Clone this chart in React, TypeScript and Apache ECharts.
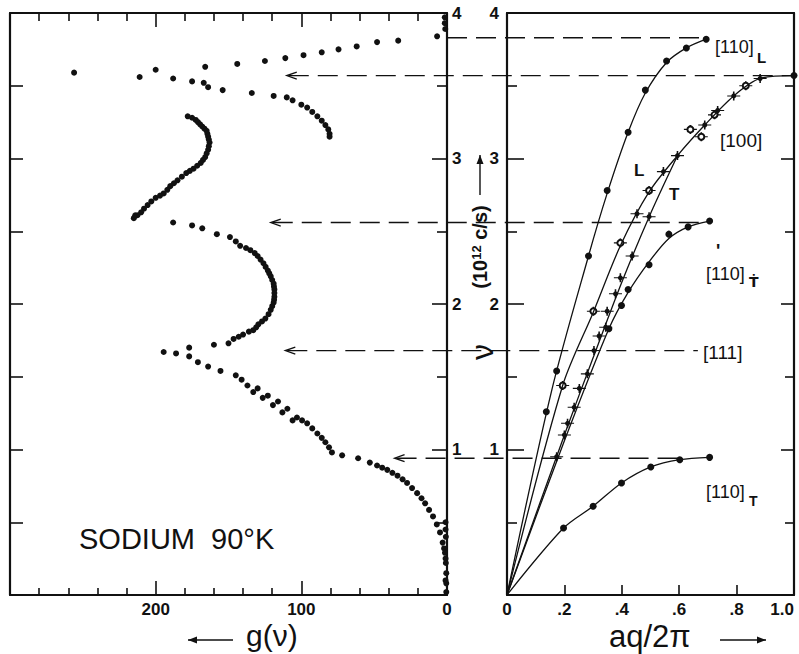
import React, { useEffect, useRef } from "react";
import * as echarts from "echarts";

// ---------- Left panel: frequency spectrum g(nu) (dots) ----------
const SPECTRUM_G = [
  1.5, 1.5, 1.2, 6.8, 33.5, 48, 62, 74.5, 86, 98.5, 111, 125, 144, 166, 200, 256,
  211, 188, 175, 167, 164, 154, 134, 119, 110, 106, 100, 96, 92.5, 89, 86, 83.5, 81.5, 80.6, 80.6,
  178, 175, 172.5, 171, 169.5, 168, 166.5, 165, 164.5, 164, 163.5, 163, 163.5, 164, 165, 166, 167.5, 169, 171.5, 174, 176.5, 179, 182, 185, 187.5, 190, 192, 194.5, 197, 200, 203, 205.5, 208, 210, 212.5, 215, 214,
  188, 175, 168, 158, 149, 145, 142, 138, 135, 132, 130, 128, 126, 124.5, 123, 122, 121, 120, 119, 118.8, 118.5, 118.5, 118.5, 118.7, 119, 120, 121, 122.5, 124.7, 127, 129.5, 131, 133, 136, 140, 143, 146.5, 150, 160, 177, 186, 194.5,
  177, 171, 164, 155.5, 145, 141, 137, 133, 130, 126.5, 123, 119.5, 116, 113, 109.6, 106, 103, 99.5, 96, 92.5, 89, 86, 83.5, 81, 79, 72, 61, 53, 48, 44.5, 41, 37.5, 34, 30.5, 27.4, 24, 20.5, 17.5, 15, 12.3, 9.6, 7, 4.8, 3, 2, 1.4, 1, 1, 0.8, 0.5, 1, 0.8, 0.5, 0.5, 1
];
const SPECTRUM_NU = [
  3.97, 3.93, 3.89, 3.84, 3.81, 3.8, 3.77, 3.75, 3.73, 3.71, 3.69, 3.67, 3.65, 3.63, 3.61, 3.59,
  3.56, 3.55, 3.53, 3.52, 3.49, 3.47, 3.45, 3.43, 3.42, 3.4, 3.37, 3.35, 3.32, 3.29, 3.26, 3.23, 3.2, 3.17, 3.15,
  3.29, 3.28, 3.265, 3.25, 3.235, 3.22, 3.205, 3.19, 3.17, 3.15, 3.13, 3.11, 3.085, 3.06, 3.035, 3.01, 2.99, 2.97, 2.95, 2.93, 2.915, 2.9, 2.875, 2.85, 2.83, 2.81, 2.785, 2.76, 2.745, 2.73, 2.705, 2.68, 2.655, 2.63, 2.61, 2.59, 2.61,
  2.56, 2.54, 2.52, 2.48, 2.46, 2.43, 2.4, 2.385, 2.37, 2.35, 2.33, 2.305, 2.28, 2.255, 2.23, 2.21, 2.19, 2.165, 2.14, 2.12, 2.1, 2.075, 2.05, 2.03, 2.01, 1.985, 1.96, 1.93, 1.9, 1.88, 1.86, 1.84, 1.82, 1.81, 1.79, 1.775, 1.76, 1.73, 1.72, 1.7, 1.66, 1.67,
  1.64, 1.6, 1.57, 1.54, 1.51, 1.48, 1.44, 1.395, 1.42, 1.355, 1.37, 1.305, 1.33, 1.255, 1.28, 1.2, 1.22, 1.2, 1.18, 1.145, 1.11, 1.08, 1.05, 1.015, 0.98, 0.96, 0.94, 0.91, 0.89, 0.875, 0.86, 0.84, 0.82, 0.795, 0.77, 0.735, 0.7, 0.665, 0.63, 0.585, 0.54, 0.485, 0.43, 0.36, 0.32, 0.29, 0.5, 0.45, 0.4, 0.15, 0.25, 0.22, 0.08, 0.02, 0.1
];

// ---------- Right panel: dispersion curves ----------
const L110_Q = [0.137, 0.173, 0.284, 0.349, 0.422, 0.482, 0.556, 0.625, 0.694];
const L110_NU = [1.26, 1.54, 2.33, 2.78, 3.18, 3.47, 3.67, 3.76, 3.82];
const L110_LINE_Q = [0, 0.155, 0.284, 0.349, 0.422, 0.482, 0.556, 0.625, 0.694];
const L110_LINE_NU = [0, 1.4, 2.33, 2.76, 3.18, 3.45, 3.66, 3.76, 3.82];

const T110_Q = [0.197, 0.3, 0.399, 0.501, 0.602, 0.706];
const T110_NU = [0.46, 0.61, 0.77, 0.88, 0.93, 0.946];

const T110B_Q = [0.355, 0.399, 0.422, 0.495, 0.564, 0.631, 0.706];
const T110B_NU = [1.83, 1.99, 2.1, 2.27, 2.48, 2.53, 2.57];
const T110B_LINE_Q = [0, 0.2, 0.355, 0.422, 0.495, 0.564, 0.631, 0.706];
const T110B_LINE_NU = [0, 1.06, 1.83, 2.08, 2.29, 2.45, 2.53, 2.57];

const L100_LINE_Q = [0, 0.194, 0.3, 0.395, 0.495, 0.594, 0.689, 0.79, 0.882, 1.0];
const L100_LINE_NU = [0, 1.44, 1.94, 2.4, 2.77, 3.02, 3.23, 3.43, 3.55, 3.57];

const T100_LINE_Q = [0, 0.2, 0.3, 0.4, 0.5, 0.594];
const T100_LINE_NU = [0, 1.1, 1.63, 2.15, 2.62, 3.02];

const OPEN_Q = [0.194, 0.301, 0.395, 0.495, 0.639, 0.677, 0.723, 0.832];
const OPEN_NU = [1.44, 1.95, 2.42, 2.78, 3.2, 3.15, 3.3, 3.5];

const CROSS_Q = [0.453, 0.545, 0.594, 0.689, 0.734, 0.79, 0.882,
  0.173, 0.2, 0.211, 0.234, 0.252, 0.28, 0.303, 0.321, 0.344, 0.349, 0.378, 0.395, 0.436, 0.495];
const CROSS_NU = [2.62, 2.91, 3.02, 3.23, 3.33, 3.43, 3.55,
  0.95, 1.1, 1.18, 1.29, 1.42, 1.52, 1.68, 1.78, 1.84, 1.95, 2.07, 2.18, 2.33, 2.6];

const END100_Q = [1.0];
const END100_NU = [3.57];

// dashed guide lines: level nu, start on left panel (g), end on right panel (q)
const GUIDE_NU = [3.83, 3.57, 2.56, 1.68, 0.94];
const GUIDE_G_START = [0, 110, 121, 111, 36];
const GUIDE_Q_END = [0.67, 1.0, 0.675, 0.665, 0.6];
const GUIDE_ARROW = [false, true, true, true, true];

// tick labels
const G_TICKS = [0, 100, 200];
const NU_TICKS = [1, 2, 3, 4];

const FONT = '"Liberation Sans", Arial, sans-serif';
const INK = "#111";

const pairs = (xs: number[], ys: number[]) => xs.map((x, i) => [x, ys[i]]);
const withOrigin = (xs: number[], ys: number[]) => [[0, 0], ...pairs(xs, ys)];

const crossSymbol = "path://M0,10L24,10M12,2L12,18";

export default function App() {
  const ref = useRef<HTMLDivElement>(null);

  useEffect(() => {
    const chart = echarts.init(ref.current!, null, { renderer: "svg" });

    const tickLabel = {
      color: INK,
      fontSize: 17,
      fontWeight: "bold" as const,
      fontFamily: FONT,
    };
    const axisLine = { show: true, onZero: false, lineStyle: { color: INK, width: 2.2 } };
    const tickStyle = { color: INK, width: 1.6 };

    const option: any = {
      animation: false,
      backgroundColor: "#fff",
      grid: [
        { left: 10, top: 13, width: 437, height: 582 },
        { left: 507, top: 13, width: 287, height: 582 },
      ],
      xAxis: [
        {
          gridIndex: 0, type: "value", position: "bottom", min: 0, max: 300, interval: 100, inverse: true,
          axisLine,
          axisTick: { show: true, inside: true, length: 14, lineStyle: tickStyle },
          minorTick: { show: true, splitNumber: 5, length: 7, lineStyle: tickStyle },
          axisLabel: { ...tickLabel, margin: 6, formatter: (v: number) => (G_TICKS.includes(v) ? String(v) : "") },
          splitLine: { show: false },
        },
        {
          gridIndex: 0, type: "value", position: "top", min: 0, max: 300, interval: 100, inverse: true,
          axisLine,
          axisTick: { show: true, inside: true, length: 14, lineStyle: tickStyle },
          minorTick: { show: true, splitNumber: 5, length: 8, lineStyle: tickStyle },
          axisLabel: { show: false },
          splitLine: { show: false },
        },
        {
          gridIndex: 1, type: "value", position: "bottom", min: 0, max: 1, interval: 0.2,
          axisLine,
          axisTick: { show: true, inside: true, length: 10, lineStyle: tickStyle },
          axisLabel: {
            ...tickLabel, margin: 6, alignMaxLabel: "right",
            formatter: (v: number) => (v === 0 ? "0" : v >= 1 ? "1.0" : "." + Math.round(v * 10)),
          },
          splitLine: { show: false },
        },
        {
          gridIndex: 1, type: "value", position: "top", min: 0, max: 1, interval: 0.2,
          axisLine, axisTick: { show: false }, axisLabel: { show: false }, splitLine: { show: false },
        },
      ],
      yAxis: [
        {
          gridIndex: 0, type: "value", position: "left", min: 0, max: 4, interval: 0.5,
          axisLine,
          axisTick: { show: true, inside: true, length: 13, lineStyle: tickStyle },
          axisLabel: { show: false }, splitLine: { show: false },
        },
        {
          gridIndex: 0, type: "value", position: "right", min: 0, max: 4, interval: 1,
          axisLine,
          axisTick: { show: true, inside: true, length: 15, lineStyle: tickStyle },
          minorTick: { show: true, splitNumber: 2, length: 10, lineStyle: tickStyle },
          axisLabel: { ...tickLabel, margin: 5, formatter: (v: number) => (NU_TICKS.includes(v) ? String(v) : "") },
          splitLine: { show: false },
        },
        {
          gridIndex: 1, type: "value", position: "left", min: 0, max: 4, interval: 1,
          axisLine,
          axisTick: { show: true, inside: true, length: 17, lineStyle: tickStyle },
          minorTick: { show: true, splitNumber: 2, length: 10, lineStyle: tickStyle },
          axisLabel: { ...tickLabel, margin: 8, formatter: (v: number) => (NU_TICKS.includes(v) ? String(v) : "") },
          splitLine: { show: false },
        },
        {
          gridIndex: 1, type: "value", position: "right", min: 0, max: 4, interval: 1,
          axisLine,
          axisTick: { show: true, inside: true, length: 13, lineStyle: tickStyle },
          minorTick: { show: true, splitNumber: 2, length: 9, lineStyle: tickStyle },
          axisLabel: { show: false }, splitLine: { show: false },
        },
      ],
      series: [
        {
          type: "scatter", xAxisIndex: 0, yAxisIndex: 0, symbolSize: 6,
          itemStyle: { color: INK, opacity: 1 }, data: pairs(SPECTRUM_G, SPECTRUM_NU),
        },
        // curves
        ...[
          pairs(L110_LINE_Q, L110_LINE_NU),
          withOrigin(T110_Q, T110_NU),
          pairs(T110B_LINE_Q, T110B_LINE_NU),
          pairs(L100_LINE_Q, L100_LINE_NU),
          pairs(T100_LINE_Q, T100_LINE_NU),
        ].map((d) => ({
          type: "line", xAxisIndex: 2, yAxisIndex: 2, data: d, smooth: 0.3,
          symbol: "none", lineStyle: { color: INK, width: 1.3 },
        })),
        // filled dots
        ...[pairs(L110_Q, L110_NU), pairs(T110_Q, T110_NU), pairs(T110B_Q, T110B_NU), pairs(END100_Q, END100_NU)].map((d) => ({
          type: "scatter", xAxisIndex: 2, yAxisIndex: 2, data: d, symbolSize: 7, itemStyle: { color: INK, opacity: 1 },
        })),
        // error-bar crosses
        {
          type: "scatter", xAxisIndex: 2, yAxisIndex: 2, symbol: crossSymbol, symbolSize: [13, 9],
          itemStyle: { color: "rgba(0,0,0,0)", borderColor: INK, borderWidth: 1.3, opacity: 1 },
          data: [...pairs(CROSS_Q, CROSS_NU), ...pairs(OPEN_Q, OPEN_NU)],
        },
        {
          type: "scatter", xAxisIndex: 2, yAxisIndex: 2, symbolSize: 5, itemStyle: { color: INK, opacity: 1 },
          data: pairs(CROSS_Q, CROSS_NU),
        },
        {
          type: "scatter", xAxisIndex: 2, yAxisIndex: 2, symbol: "emptyCircle", symbolSize: 6,
          itemStyle: { color: INK, borderColor: INK, borderWidth: 1.3, opacity: 1 },
          data: pairs(OPEN_Q, OPEN_NU),
        },
      ],
    };
    chart.setOption(option);

    const toLeft = (g: number, nu: number) => chart.convertToPixel({ xAxisIndex: 0, yAxisIndex: 0 } as any, [g, nu]) as number[];
    const toRight = (q: number, nu: number) => chart.convertToPixel({ xAxisIndex: 2, yAxisIndex: 2 } as any, [q, nu]) as number[];

    const graphics: any[] = [];
    const stroke = { stroke: INK, lineWidth: 1.3 };
    GUIDE_NU.forEach((nu, i) => {
      const a = toLeft(GUIDE_G_START[i], nu);
      const b = toRight(GUIDE_Q_END[i], nu);
      graphics.push({
        type: "line", silent: true,
        shape: { x1: a[0] + (GUIDE_ARROW[i] ? 2 : 0), y1: a[1], x2: b[0], y2: b[1] },
        style: { ...stroke, lineDash: [20, 9] },
      });
      if (GUIDE_ARROW[i]) {
        graphics.push({
          type: "polyline", silent: true,
          shape: { points: [[a[0] + 10, a[1] - 3.5], [a[0], a[1]], [a[0] + 10, a[1] + 3.5]] },
          style: { ...stroke, fill: "none" },
        });
      }
    });

    const txt = (text: string, x: number, y: number, size: number, extra: any = {}) => ({
      type: "text", silent: true, x, y,
      style: { text, fill: INK, fontSize: size, fontFamily: FONT, align: "left", verticalAlign: "middle", ...extra },
    });
    const arrowLine = (x1: number, y1: number, x2: number, y2: number) => {
      const ang = Math.atan2(y2 - y1, x2 - x1);
      const L = 9, W = 3.5;
      const bx = x2 - L * Math.cos(ang), by = y2 - L * Math.sin(ang);
      const nx = -Math.sin(ang) * W, ny = Math.cos(ang) * W;
      return [
        { type: "line", silent: true, shape: { x1, y1, x2, y2 }, style: { stroke: INK, lineWidth: 1.4 } },
        { type: "polygon", silent: true, shape: { points: [[x2, y2], [bx + nx, by + ny], [bx - nx, by - ny]] }, style: { fill: INK } },
      ];
    };

    graphics.push(txt("SODIUM  90°K", 79, 539, 29));
    graphics.push(txt("g(ν)", 246, 635, 30));
    graphics.push(...arrowLine(233, 640, 188, 640));
    graphics.push(txt("aq/2π", 609, 636, 31));
    graphics.push(...arrowLine(720, 640, 766, 640));
    graphics.push({ ...txt("ν", 482, 352, 32, { align: "center" }), rotation: Math.PI / 2 });
    graphics.push({
      type: "text", silent: true, x: 480, y: 247, rotation: Math.PI / 2,
      style: {
        text: "(10{s|12} c/s)", fill: INK, fontSize: 20, fontFamily: FONT, fontWeight: "bold",
        align: "center", verticalAlign: "middle",
        rich: { s: { fontSize: 13, fontFamily: FONT, fontWeight: "bold", verticalAlign: "top", padding: [0, 0, 8, 0] } },
      },
    });
    graphics.push(...arrowLine(480, 195, 480, 155));

    graphics.push(txt("[110]", 715, 47, 18));
    graphics.push(txt("L", 757, 57, 15, { fontWeight: "bold" }));
    graphics.push(txt("[100]", 720, 140, 19));
    graphics.push(txt("L", 634, 170, 17, { fontWeight: "bold" }));
    graphics.push(txt("T", 669, 194, 17, { fontWeight: "bold" }));
    graphics.push(txt("'", 716, 251, 18, { fontWeight: "bold" }));
    graphics.push(txt("[110]", 706, 274, 18));
    graphics.push(txt("Ṫ", 749, 282, 14, { fontWeight: "bold", fontFamily: '"DejaVu Sans", sans-serif' }));
    graphics.push(txt("[111]", 703, 352, 19));
    graphics.push(txt("[110]", 706, 492, 18));
    graphics.push(txt("T", 749, 501, 14, { fontWeight: "bold" }));

    chart.setOption({ graphic: graphics });

    return () => chart.dispose();
  }, []);

  return <div ref={ref} style={{ position: "absolute", left: 0, top: 0, width: 799, height: 654 }} />;
}
